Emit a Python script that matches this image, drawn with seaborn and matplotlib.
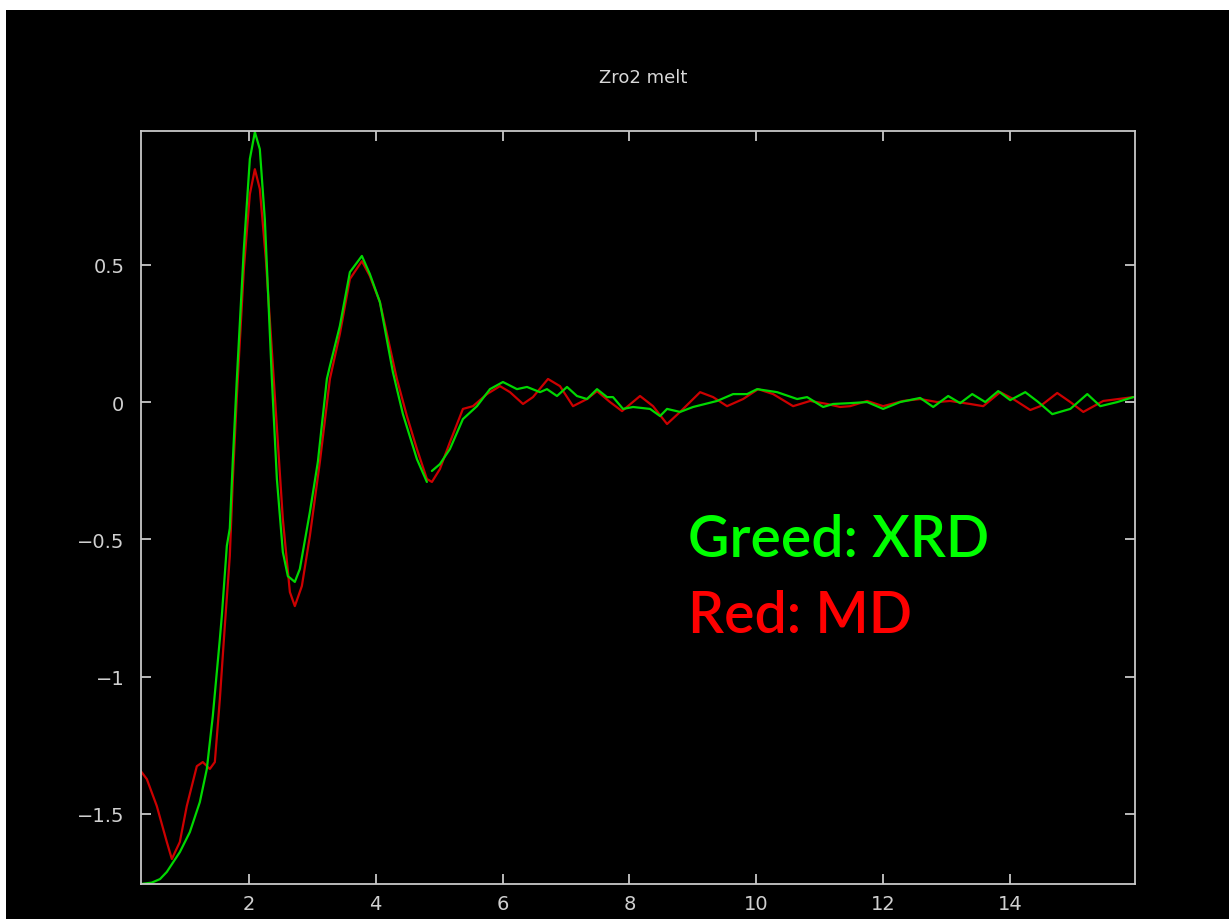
import matplotlib
matplotlib.use("Agg")
import matplotlib.pyplot as plt
from matplotlib.patches import Rectangle
import seaborn as sns
import pandas as pd

# Green (XRD) - first segment
xrd1_x = [0.30, 0.47, 0.60, 0.707, 0.912, 1.070, 1.227, 1.338, 1.432, 1.543, 1.574, 1.653,
          1.700, 1.748, 1.811, 1.921, 2.016, 2.095, 2.173, 2.252, 2.363, 2.442, 2.536, 2.615,
          2.647, 2.725, 2.804, 2.962, 3.088, 3.230, 3.278, 3.435, 3.593, 3.782, 3.908, 4.066,
          4.271, 4.429, 4.650, 4.807]
xrd1_y = [-1.755, -1.75, -1.737, -1.711, -1.639, -1.566, -1.457, -1.336, -1.143, -0.863, -0.779, -0.524,
          -0.46, -0.21, 0.084, 0.557, 0.885, 0.983, 0.921, 0.666, 0.084, -0.280, -0.546, -0.634,
          -0.640, -0.655, -0.608, -0.401, -0.218, 0.084, 0.131, 0.277, 0.473, 0.532, 0.466, 0.364,
          0.109, -0.044, -0.208, -0.291]

# Green (XRD) - second segment
xrd2_x = [4.886, 5.012, 5.170, 5.375, 5.596, 5.801, 6.006, 6.227, 6.385, 6.590, 6.700, 6.858,
          7.016, 7.173, 7.331, 7.489, 7.647, 7.741, 7.899, 8.057, 8.325, 8.483, 8.593, 8.798,
          9.003, 9.382, 9.634, 9.855, 10.013, 10.328, 10.644, 10.801, 11.054, 11.211, 11.479,
          11.747, 12.000, 12.268, 12.583, 12.789, 13.025, 13.214, 13.404, 13.609, 13.814,
          14.003, 14.240, 14.445, 14.666, 14.950, 15.218, 15.423, 15.691, 15.943]
xrd2_y = [-0.251, -0.226, -0.171, -0.062, -0.015, 0.047, 0.073, 0.047, 0.055, 0.036, 0.047, 0.022,
          0.055, 0.022, 0.011, 0.047, 0.018, 0.018, -0.025, -0.018, -0.025, -0.051, -0.025, -0.036,
          -0.018, 0.004, 0.029, 0.029, 0.047, 0.036, 0.011, 0.018, -0.018, -0.007, -0.004,
          0.000, -0.025, 0.000, 0.015, -0.018, 0.022, -0.004, 0.029, 0.000, 0.040,
          0.007, 0.036, 0.000, -0.044, -0.025, 0.029, -0.015, 0.000, 0.018]

# Red (MD)
md_x = [0.297, 0.392, 0.549, 0.707, 0.786, 0.912, 1.022, 1.180, 1.274, 1.385, 1.464, 1.543,
        1.621, 1.700, 1.748, 1.811, 1.921, 2.016, 2.095, 2.173, 2.268, 2.410, 2.536, 2.647,
        2.725, 2.836, 2.962, 3.120, 3.278, 3.435, 3.593, 3.782, 3.908, 4.066, 4.334, 4.492,
        4.650, 4.807, 4.886, 5.012, 5.170, 5.375, 5.533, 5.754, 5.959, 6.117, 6.322, 6.479,
        6.716, 6.905, 7.110, 7.331, 7.489, 7.694, 7.883, 8.167, 8.372, 8.593, 8.798, 9.114,
        9.319, 9.539, 9.792, 10.028, 10.265, 10.580, 10.849, 11.117, 11.322, 11.479, 11.747,
        12.000, 12.315, 12.583, 12.851, 13.056, 13.372, 13.577, 13.845, 14.050, 14.319,
        14.476, 14.744, 14.950, 15.155, 15.470, 15.943]
md_y = [-1.344, -1.373, -1.471, -1.602, -1.664, -1.602, -1.471, -1.326, -1.311, -1.336, -1.311, -1.082,
        -0.816, -0.561, -0.280, 0.022, 0.484, 0.757, 0.848, 0.776, 0.521, 0.022, -0.426, -0.692,
        -0.743, -0.670, -0.488, -0.218, 0.084, 0.248, 0.448, 0.513, 0.459, 0.364, 0.084, -0.051,
        -0.171, -0.280, -0.291, -0.244, -0.146, -0.025, -0.015, 0.029, 0.058, 0.036, -0.007, 0.018,
        0.084, 0.058, -0.015, 0.011, 0.040, 0.000, -0.033, 0.022, -0.015, -0.080, -0.036, 0.036,
        0.018, -0.015, 0.011, 0.047, 0.029, -0.015, 0.004, -0.007, -0.018, -0.015, 0.004,
        -0.015, 0.004, 0.011, 0.000, 0.004, -0.007, -0.015, 0.036, 0.011, -0.029,
        -0.015, 0.033, 0.000, -0.036, 0.004, 0.018]

x_ticks = [2, 4, 6, 8, 10, 12, 14]
x_tick_labels = ["2", "4", "6", "8", "10", "12", "14"]
y_ticks = [-1.5, -1, -0.5, 0, 0.5]
y_tick_labels = ["\u22121.5", "\u22121", "\u22120.5", "0", "0.5"]
title = "Zro2 melt"
label_xrd = "Greed: XRD"
label_md = "Red: MD"

sns.set_style("dark")
plt.rcParams["font.family"] = ["DejaVu Sans"]

W, H = 1229, 920
fig = plt.figure(figsize=(W / 100, H / 100), dpi=100, facecolor="white")
fig.add_artist(Rectangle((6 / W, 0), 1, (H - 11) / H, transform=fig.transFigure,
                         facecolor="black", edgecolor="none", zorder=-10))
ax = fig.add_axes([141 / W, (H - 885) / H, (1135 - 141) / W, (885 - 132) / H])
ax.set_facecolor("black")

red_c = "#cc0000"
green_c = "#00d800"
df_md = pd.DataFrame({"x": md_x, "y": md_y})
df_x1 = pd.DataFrame({"x": xrd1_x, "y": xrd1_y})
df_x2 = pd.DataFrame({"x": xrd2_x, "y": xrd2_y})
sns.lineplot(data=df_md, x="x", y="y", color=red_c, lw=1.6, ax=ax, sort=False)
sns.lineplot(data=df_x1, x="x", y="y", color=green_c, lw=1.6, ax=ax, sort=False)
sns.lineplot(data=df_x2, x="x", y="y", color=green_c, lw=1.6, ax=ax, sort=False)

ax.set_xlim(0.30, 15.97)
ax.set_ylim(-1.755, 0.987)
ax.set_xlabel("")
ax.set_ylabel("")
ax.grid(False)

spine_c = "#c8c8c8"
for s in ax.spines.values():
    s.set_visible(True)
    s.set_color(spine_c)
    s.set_linewidth(1.3)

ax.set_xticks(x_ticks)
ax.set_xticklabels(x_tick_labels)
ax.set_yticks(y_ticks)
ax.set_yticklabels(y_tick_labels)
ax.tick_params(axis="both", which="both", direction="in", length=7, width=1.3,
               color=spine_c, labelcolor="#d0d0d0", labelsize=14,
               top=True, right=True, bottom=True, left=True)
ax.tick_params(axis="x", pad=7)
ax.tick_params(axis="y", pad=12)

fig.text(643 / W, 1 - 78 / H, title, color="#d8d8d8", fontsize=13,
         ha="center", va="center")

ax.text(0.550, 0.458, label_xrd, transform=ax.transAxes, color="#00ff00",
        fontsize=41, fontfamily="Lato", fontweight="semibold", ha="left", va="center")
ax.text(0.550, 0.357, label_md, transform=ax.transAxes, color="#ff0000",
        fontsize=41, fontfamily="Lato", fontweight="semibold", ha="left", va="center")

fig.savefig("out.png", dpi=100, facecolor=fig.get_facecolor())
